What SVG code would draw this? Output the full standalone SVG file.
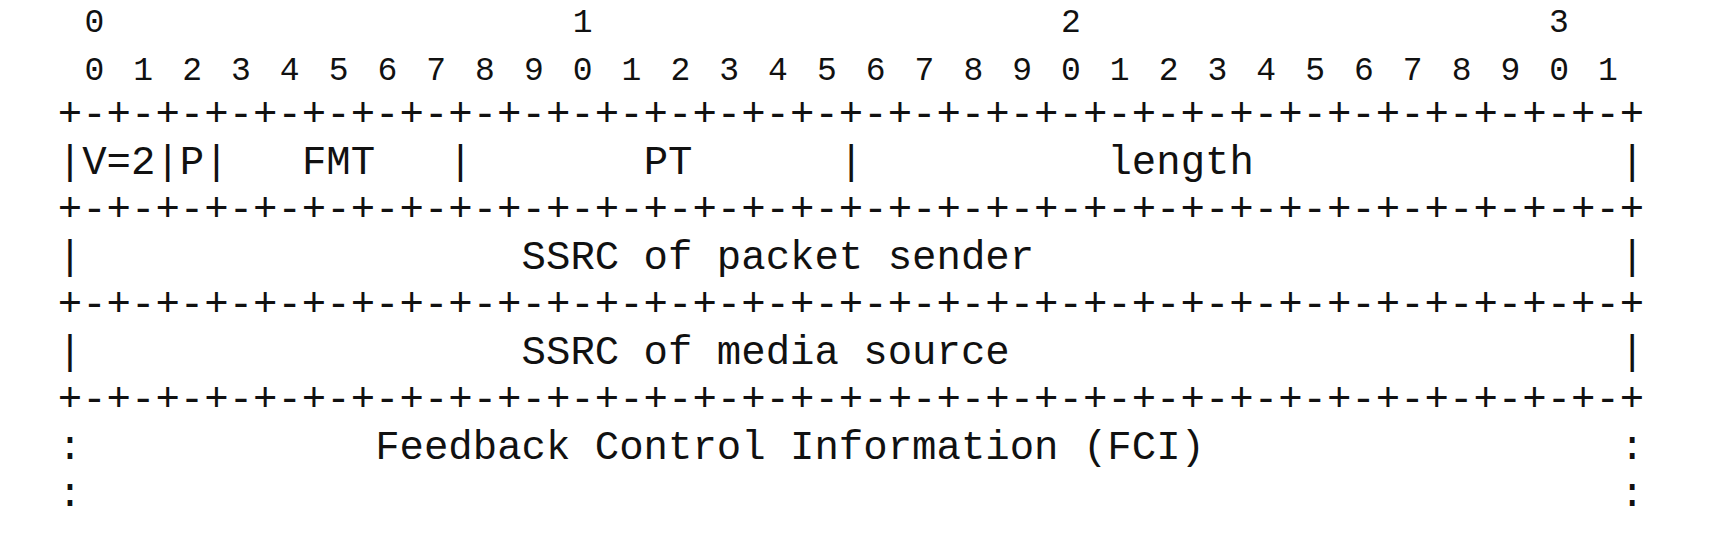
<svg xmlns="http://www.w3.org/2000/svg" width="1726" height="560" viewBox="0 0 1726 560">
<style>
text{font-family:"Liberation Mono","Courier New",monospace;fill:#111;}
.m{font-size:40.68px;}
.r{font-size:33px;letter-spacing:4.61px;}
.c{font-size:33px;text-anchor:middle;}
</style>
<rect width="1726" height="560" fill="#fff"/>
<g id="ruler">
<text class="c" x="94.41" y="31.5">0</text>
<text class="c" x="582.61" y="31.5">1</text>
<text class="c" x="1070.81" y="31.5">2</text>
<text class="c" x="1559.01" y="31.5">3</text>
<text class="r" x="84.51" y="79.5" xml:space="preserve">0 1 2 3 4 5 6 7 8 9 0 1 2 3 4 5 6 7 8 9 0 1 2 3 4 5 6 7 8 9 0 1</text>
</g>
<g id="borders">
<text class="m" x="57.8" y="126">+-+-+-+-+-+-+-+-+-+-+-+-+-+-+-+-+-+-+-+-+-+-+-+-+-+-+-+-+-+-+-+-+</text>
<text class="m" x="57.8" y="221">+-+-+-+-+-+-+-+-+-+-+-+-+-+-+-+-+-+-+-+-+-+-+-+-+-+-+-+-+-+-+-+-+</text>
<text class="m" x="57.8" y="316">+-+-+-+-+-+-+-+-+-+-+-+-+-+-+-+-+-+-+-+-+-+-+-+-+-+-+-+-+-+-+-+-+</text>
<text class="m" x="57.8" y="411">+-+-+-+-+-+-+-+-+-+-+-+-+-+-+-+-+-+-+-+-+-+-+-+-+-+-+-+-+-+-+-+-+</text>
</g>
<g id="header-row">
<text class="m" x="57.8" y="173.5">|V=2|P|</text>
<text class="m" x="301.9" y="173.5">FMT</text>
<text class="m" x="448.36" y="173.5">|</text>
<text class="m" x="643.64" y="173.5">PT</text>
<text class="m" x="838.92" y="173.5">|</text>
<text class="m" x="1107.43" y="173.5">length</text>
<text class="m" x="1620.04" y="173.5">|</text>
</g>
<g id="ssrc-sender">
<text class="m" x="57.8" y="268.5">|</text>
<text class="m" x="521.59" y="268.5">SSRC of packet sender</text>
<text class="m" x="1620.04" y="268.5">|</text>
</g>
<g id="ssrc-media">
<text class="m" x="57.8" y="363.5">|</text>
<text class="m" x="521.59" y="363.5">SSRC of media source</text>
<text class="m" x="1620.04" y="363.5">|</text>
</g>
<g id="fci">
<text class="m" x="57.8" y="458.5">:</text>
<text class="m" x="375.13" y="458.5">Feedback Control Information (FCI)</text>
<text class="m" x="1620.04" y="458.5">:</text>
<text class="m" x="57.8" y="506">:</text>
<text class="m" x="1620.04" y="506">:</text>
</g>
</svg>
